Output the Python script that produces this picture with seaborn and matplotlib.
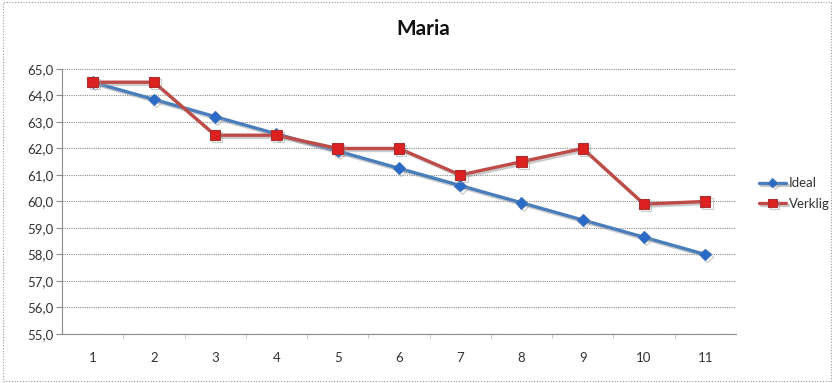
import matplotlib
matplotlib.use("Agg")
import matplotlib.pyplot as plt
import matplotlib.patheffects as pe
from matplotlib.ticker import FuncFormatter, FixedLocator
import seaborn as sns
import pandas as pd

x_vals = [1, 2, 3, 4, 5, 6, 7, 8, 9, 10, 11]
ideal = [64.5, 63.85, 63.2, 62.55, 61.9, 61.25, 60.6, 59.95, 59.3, 58.65, 58.0]
verklig = [64.5, 64.5, 62.5, 62.5, 62.0, 62.0, 61.0, 61.5, 62.0, 59.9, 60.0]
series_names = ["Ideal", "Verklig"]
title = "Maria"

df = pd.DataFrame({
    "x": x_vals * 2,
    "y": ideal + verklig,
    "serie": [series_names[0]] * len(x_vals) + [series_names[1]] * len(x_vals),
})

sns.set_style("white")
plt.rcParams["font.family"] = ["Lato", "DejaVu Sans"]

fig = plt.figure(figsize=(8.35, 3.83), dpi=100)
ax = fig.add_axes([0.0743, 0.128, 0.807, 0.692])

palette = {"Ideal": "#4a7ebb", "Verklig": "#be4b48"}
shadow = [pe.SimpleLineShadow(offset=(1.5, -1.5), shadow_color="#999999", alpha=0.5), pe.Normal()]

for name, mk, mfc, mec, ms in [("Ideal", "D", "#2a6ac8", "#3b70b8", 6),
                                ("Verklig", "s", "#dd2020", "#a83030", 7.5)]:
    sub = df[df["serie"] == name]
    sns.lineplot(data=sub, x="x", y="y", ax=ax, color=palette[name], lw=2.4,
                 marker=mk, markersize=ms, markerfacecolor=mfc, markeredgecolor=mec,
                 markeredgewidth=0.8, label=name, path_effects=shadow, zorder=3)

ax.set_xlim(0.5, 11.5)
ax.set_ylim(55, 65)
ax.yaxis.set_major_locator(FixedLocator([55 + i for i in range(11)]))
ax.yaxis.set_major_formatter(FuncFormatter(lambda v, p: f"{v:.1f}".replace(".", ",")))
ax.set_xticks(x_vals)
ax.set_xticklabels([str(v) for v in x_vals])
ax.set_xticks([v + 0.5 for v in x_vals[:-1]], minor=True)
ax.set_xlabel("")
ax.set_ylabel("")
ax.grid(axis="y", color="#8c8c8c", linestyle=(0, (1, 1)), linewidth=0.8)
ax.grid(axis="x", visible=False)
for s in ["top", "right"]:
    ax.spines[s].set_visible(False)
ax.spines["left"].set_color("#8c8c8c")
ax.spines["left"].set_linewidth(0.8)
ax.spines["bottom"].set_color("#8c8c8c")
ax.spines["bottom"].set_linestyle((0, (1, 1)))
ax.spines["bottom"].set_linewidth(0.8)
ax.tick_params(axis="y", length=4, color="#8c8c8c", labelsize=9.5, labelcolor="#333333", pad=2, left=True)
ax.tick_params(axis="x", which="major", length=0, labelsize=9.5, labelcolor="#333333", pad=13)
ax.tick_params(axis="x", which="minor", length=3, color="#bbbbbb", bottom=True)
ax.set_axisbelow(True)

fig.suptitle(title, x=0.507, y=0.95, fontsize=15, fontweight="bold", color="#111111")

leg = ax.legend(loc="center left", bbox_to_anchor=(1.02, 0.53), frameon=False,
                fontsize=9.5, handlelength=2.1, handletextpad=0.2, labelspacing=0.65,
                borderaxespad=0.3, markerscale=0.8)
for t in leg.get_texts():
    t.set_color("#333333")

border = plt.Rectangle((0.003, 0.004), 0.992, 0.99, transform=fig.transFigure,
                       fill=False, edgecolor="#999999", linestyle=(0, (1, 1.5)), linewidth=0.8)
fig.patches.append(border)

fig.savefig("out.png", dpi=100)
